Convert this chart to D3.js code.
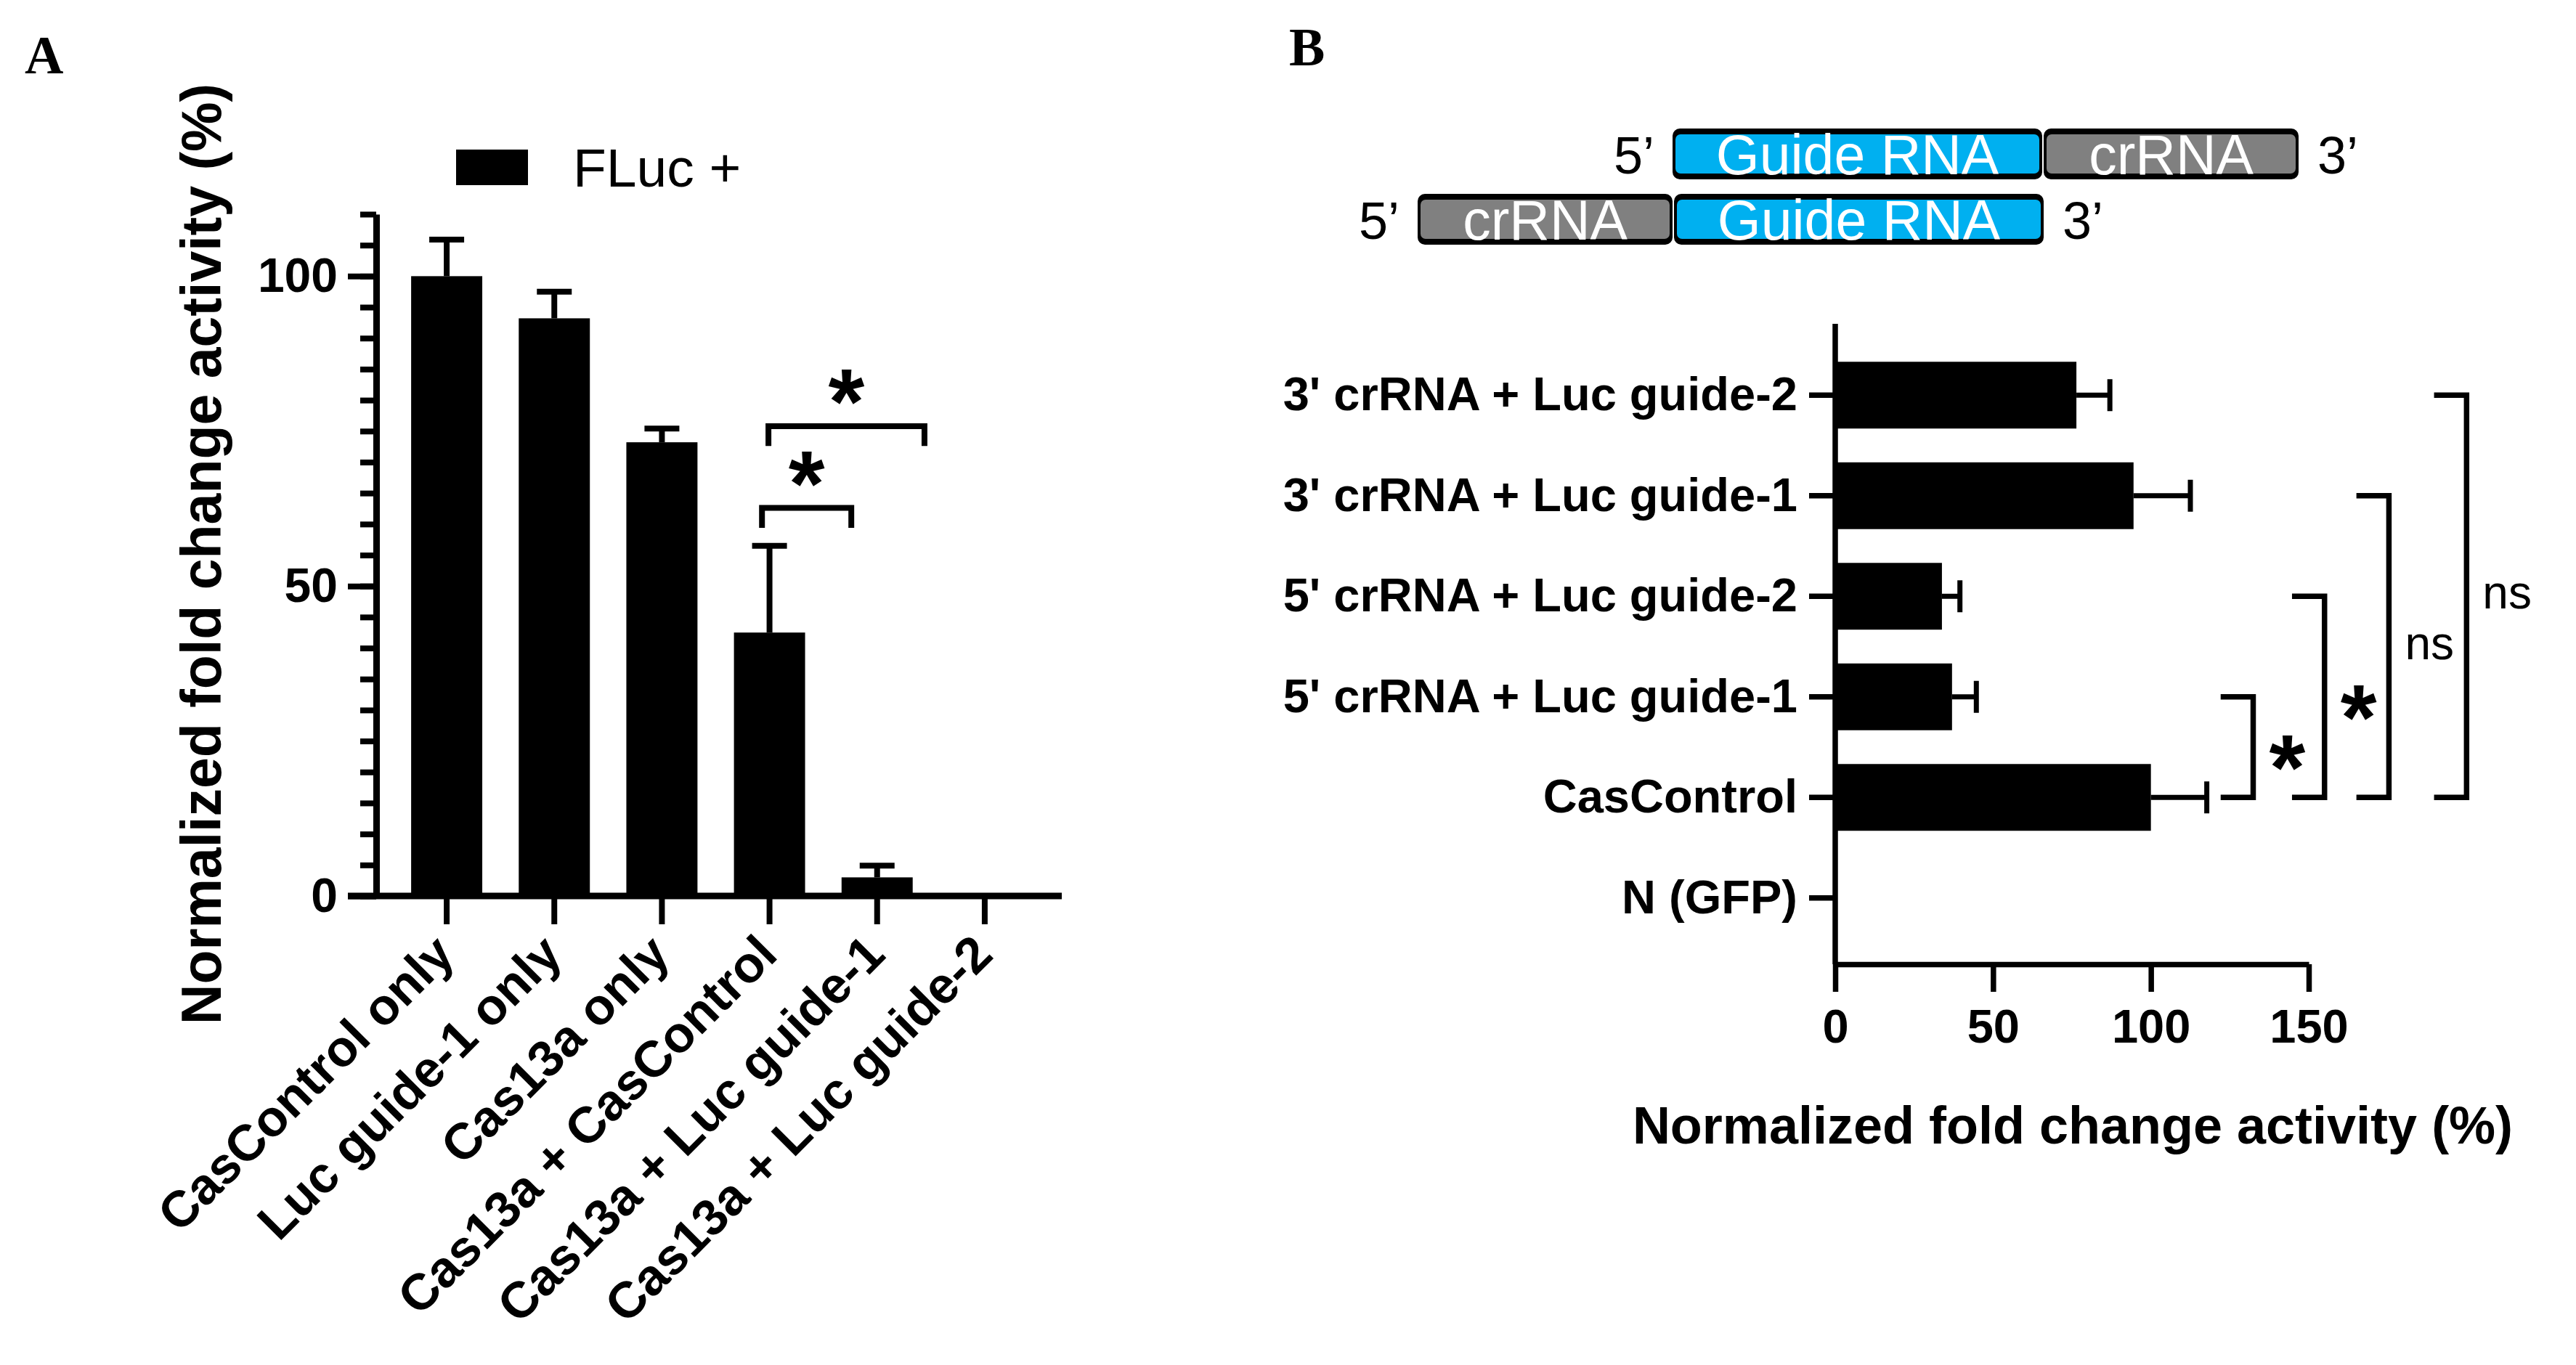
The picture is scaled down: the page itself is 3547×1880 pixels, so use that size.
<!DOCTYPE html>
<html>
<head>
<meta charset="utf-8">
<script src="https://cdn.jsdelivr.net/npm/d3@7"></script>
<style>
  body { margin: 0; background: #fff; }
  text { font-family: "Liberation Sans", Arial, sans-serif; }
</style>
</head>
<body>
<div id="chart"></div>
<script>
// ---- panel A data ----
var aCats = ["CasControl only", "Luc guide-1 only", "Cas13a only", "Cas13a + CasControl", "Cas13a + Luc guide-1", "Cas13a + Luc guide-2"];
var aMean = [100, 93.2, 73.2, 42.5, 3.0, 0];
var aSd = [5.9, 4.3, 2.2, 14.0, 1.9, 0];
var aTicks = [0, 50, 100];
var aSigFrom = [2.93, 2.99];   // category index positions of the bracket ends
var aSigTo = [3.76, 4.44];
var aSigLevel = [62.6, 75.8];
var aSigText = ["*", "*"];
var aLegend = "FLuc +";

// ---- panel B data ----
var bCats = ["3' crRNA + Luc guide-2", "3' crRNA + Luc guide-1", "5' crRNA + Luc guide-2", "5' crRNA + Luc guide-1", "CasControl", "N (GFP)"];
var bMean = [76.4, 94.5, 33.8, 37.0, 100, 0];
var bSd = [10.6, 18.0, 5.7, 7.7, 17.7, 0];
var bTicks = [0, 50, 100, 150];
var bSigFrom = ["5' crRNA + Luc guide-1", "5' crRNA + Luc guide-2", "3' crRNA + Luc guide-1", "3' crRNA + Luc guide-2"];
var bSigTo = ["CasControl", "CasControl", "CasControl", "CasControl"];
var bSigLevel = [132.4, 155, 175.4, 200];
var bSigText = ["*", "*", "ns", "ns"];
var axisTitle = "Normalized fold change activity (%)";

// ---- construct diagram ----
var rowTop = [["Guide RNA", "guide"], ["crRNA", "cr"]];
var rowBottom = [["crRNA", "cr"], ["Guide RNA", "guide"]];

var svg = d3.select("#chart").append("svg")
	.attr("width", 3547)
	.attr("height", 1880);

svg.append("rect").attr("width", 3547).attr("height", 1880).attr("fill", "#fff");

// panel letters
svg.append("text").attr("x", 34).attr("y", 101).text("A")
	.style("font-family", "'Liberation Serif', 'Times New Roman', serif")
	.style("font-weight", "bold").style("font-size", "74px");
svg.append("text").attr("x", 1775).attr("y", 90).text("B")
	.style("font-family", "'Liberation Serif', 'Times New Roman', serif")
	.style("font-weight", "bold").style("font-size", "74px");

// =================== Panel A ===================
var A = svg.append("g");
var xA = d3.scaleBand().domain(aCats).range([541, 1430]).paddingInner(0.339).paddingOuter(0.1695);
var yA = d3.scaleLinear().domain([0, 110]).range([1234, 295]);
var posA = d3.scaleLinear().domain([0, aCats.length - 1])
	.range([xA(aCats[0]) + xA.bandwidth() / 2, xA(aCats[aCats.length - 1]) + xA.bandwidth() / 2]);

// minor ticks every 5
var minor = A.append("g").attr("transform", "translate(518,0)")
	.call(d3.axisLeft(yA).tickValues(d3.range(0, 111, 5)).tickSize(22).tickSizeOuter(0).tickFormat(""));
minor.select(".domain").attr("stroke-width", 9);
minor.selectAll(".tick line").attr("stroke-width", 8);

var major = A.append("g").attr("transform", "translate(518,0)")
	.call(d3.axisLeft(yA).tickValues(aTicks).tickSize(39).tickSizeOuter(0).tickPadding(14));
major.select(".domain").remove();
major.selectAll(".tick line").attr("stroke-width", 8);
major.selectAll(".tick text")
	.style("font-family", "'Liberation Sans', Arial, sans-serif")
	.style("font-size", "66px").style("font-weight", "bold").attr("fill", "#000");

// x axis line (extends left past the y axis like Prism)
A.append("line").attr("x1", 479).attr("x2", 1462)
	.attr("y1", yA(0)).attr("y2", yA(0))
	.attr("stroke", "#000").attr("stroke-width", 9);

var xAx = A.append("g").attr("transform", "translate(0," + yA(0) + ")")
	.call(d3.axisBottom(xA).tickSize(39).tickSizeOuter(0).tickFormat(""));
xAx.select(".domain").remove();
xAx.selectAll(".tick line").attr("stroke-width", 8);

// rotated category labels
A.selectAll(".xlab").data(aCats).enter().append("text")
	.attr("class", "xlab")
	.attr("text-anchor", "end")
	.attr("transform", function (d) {
		return "translate(" + (xA(d) + xA.bandwidth() / 2 + 14) + ",1318) rotate(-45)";
	})
	.style("font-size", "70px").style("font-weight", "bold")
	.text(function (d) { return d; });

// bars
A.selectAll(".bar").data(aCats).enter().append("rect")
	.attr("x", function (d) { return xA(d); })
	.attr("width", xA.bandwidth())
	.attr("y", function (d, i) { return yA(aMean[i]); })
	.attr("height", function (d, i) { return yA(0) - yA(aMean[i]); })
	.attr("fill", "#000");

// error bars (upper only)
aCats.forEach(function (c, i) {
	if (aSd[i] <= 0) return;
	var cx = xA(c) + xA.bandwidth() / 2;
	A.append("line").attr("x1", cx).attr("x2", cx)
		.attr("y1", yA(aMean[i])).attr("y2", yA(aMean[i] + aSd[i]))
		.attr("stroke", "#000").attr("stroke-width", 8);
	A.append("line").attr("x1", cx - 24).attr("x2", cx + 24)
		.attr("y1", yA(aMean[i] + aSd[i])).attr("y2", yA(aMean[i] + aSd[i]))
		.attr("stroke", "#000").attr("stroke-width", 8);
});

// significance brackets
aSigLevel.forEach(function (lv, i) {
	var x1 = posA(aSigFrom[i]), x2 = posA(aSigTo[i]);
	A.append("path")
		.attr("d", "M" + x1 + "," + yA(lv - 3.2) + "V" + yA(lv) + "H" + x2 + "V" + yA(lv - 3.2))
		.attr("fill", "none").attr("stroke", "#000").attr("stroke-width", 8);
	A.append("text").attr("x", (x1 + x2) / 2).attr("y", yA(lv + 7.2) + 72)
		.attr("text-anchor", "middle")
		.style("font-size", "128px").style("font-weight", "bold")
		.text(aSigText[i]);
});

// legend
A.append("rect").attr("x", 628).attr("y", 206).attr("width", 99).attr("height", 49).attr("fill", "#000");
A.append("text").attr("x", 789).attr("y", 257).style("font-size", "75px").text(aLegend);

// y title
A.append("text").attr("transform", "translate(304,763) rotate(-90)")
	.attr("text-anchor", "middle")
	.style("font-size", "77px").style("font-weight", "bold")
	.text(axisTitle);

// =================== Panel B ===================
var B = svg.append("g");
var xB = d3.scaleLinear().domain([0, 150]).range([2527, 3179]);
var yB = d3.scaleBand().domain(bCats).range([475, 1306]).paddingInner(0.336).paddingOuter(0.168);
var cy = function (d) { return yB(d) + yB.bandwidth() / 2; };

// y axis line
B.append("line").attr("x1", xB(0)).attr("x2", xB(0)).attr("y1", 446).attr("y2", 1328)
	.attr("stroke", "#000").attr("stroke-width", 7.5);

var yBx = B.append("g").attr("transform", "translate(" + xB(0) + ",0)")
	.call(d3.axisLeft(yB).tickSize(36).tickSizeOuter(0).tickPadding(16));
yBx.select(".domain").remove();
yBx.selectAll(".tick line").attr("stroke-width", 7.5);
yBx.selectAll(".tick text")
	.style("font-family", "'Liberation Sans', Arial, sans-serif")
	.style("font-size", "65px").style("font-weight", "bold").attr("fill", "#000");

var xBx = B.append("g").attr("transform", "translate(0,1328)")
	.call(d3.axisBottom(xB).tickValues(bTicks).tickSize(38).tickSizeOuter(0).tickPadding(24));
xBx.select(".domain").attr("stroke-width", 7.5);
xBx.selectAll(".tick line").attr("stroke-width", 7.5);
xBx.selectAll(".tick text")
	.style("font-family", "'Liberation Sans', Arial, sans-serif")
	.style("font-size", "65px").style("font-weight", "bold").attr("fill", "#000");

// bars
B.selectAll(".hbar").data(bCats).enter().append("rect")
	.attr("x", xB(0))
	.attr("y", function (d) { return yB(d); })
	.attr("height", yB.bandwidth())
	.attr("width", function (d, i) { return xB(bMean[i]) - xB(0); })
	.attr("fill", "#000");

bCats.forEach(function (c, i) {
	if (bSd[i] <= 0) return;
	var y0 = cy(c);
	B.append("line").attr("x1", xB(bMean[i])).attr("x2", xB(bMean[i] + bSd[i]))
		.attr("y1", y0).attr("y2", y0).attr("stroke", "#000").attr("stroke-width", 7);
	B.append("line").attr("x1", xB(bMean[i] + bSd[i])).attr("x2", xB(bMean[i] + bSd[i]))
		.attr("y1", y0 - 22).attr("y2", y0 + 22).attr("stroke", "#000").attr("stroke-width", 7);
});

// significance brackets
bSigLevel.forEach(function (lv, i) {
	var y1 = cy(bSigFrom[i]), y2 = cy(bSigTo[i]);
	B.append("path")
		.attr("d", "M" + xB(lv - 10.3) + "," + y1 + "H" + xB(lv) + "V" + y2 + "H" + xB(lv - 10.3))
		.attr("fill", "none").attr("stroke", "#000").attr("stroke-width", 7.5);
	var isStar = bSigText[i] === "*";
	B.append("text").attr("x", xB(lv) + 22)
		.attr("y", (y1 + y2) / 2 + (isStar ? 72 : 17))
		.style("font-size", isStar ? "128px" : "64px")
		.style("font-weight", isStar ? "bold" : "normal")
		.text(bSigText[i]);
});

B.append("text").attr("x", 2854).attr("y", 1575).attr("text-anchor", "middle")
	.style("font-size", "72px").style("font-weight", "bold").text(axisTitle);

// construct diagram
var segLen = { guide: 505, cr: 347 };
var segFill = { guide: "#00B0F0", cr: "#808080" };
function drawRow(row, x0, top) {
	var x = x0, h = 62;
	row.forEach(function (s) {
		var w = segLen[s[1]];
		// black outline, heavier along top and bottom edges
		B.append("rect").attr("x", x - 2).attr("y", top - 4).attr("width", w + 4).attr("height", h + 8)
			.attr("rx", 10).attr("fill", "#000");
		B.append("rect").attr("x", x + 2).attr("y", top + 4).attr("width", w - 4).attr("height", h - 8)
			.attr("rx", 7).attr("fill", segFill[s[1]]);
		B.append("text").attr("x", x + w / 2).attr("y", top + h - 3).attr("text-anchor", "middle")
			.attr("fill", "#fff").style("font-size", "77px").text(s[0]);
		x += w + 6;
	});
	B.append("text").attr("x", x0 - 27).attr("y", top + 58).attr("text-anchor", "end")
		.style("font-size", "72px").text("5\u2019");
	B.append("text").attr("x", x + 22).attr("y", top + 58)
		.style("font-size", "72px").text("3\u2019");
}
drawRow(rowTop, 2305, 181);
drawRow(rowBottom, 1954, 271);
</script>
</body>
</html>
